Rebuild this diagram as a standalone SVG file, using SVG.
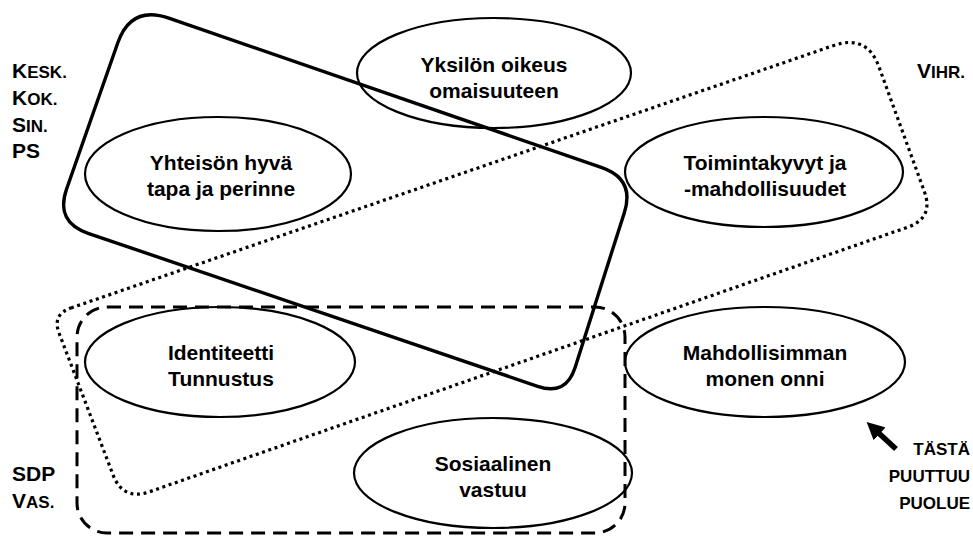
<svg xmlns="http://www.w3.org/2000/svg" width="973" height="536" viewBox="0 0 973 536">
<defs>
<style>
.bg{fill:#fff}
.el{fill:none;stroke:#000;stroke-width:2.2}
.t{font-family:"Liberation Sans",Arial,sans-serif;font-weight:bold;font-size:21px;fill:#000;text-anchor:middle}
.lab{font-family:"Liberation Sans",Arial,sans-serif;font-weight:bold;font-size:21px;fill:#000}
.sc{font-size:17px}
.note{font-family:"Liberation Sans",Arial,sans-serif;font-weight:bold;font-size:17px;fill:#000;text-anchor:end}
.solid{fill:none;stroke:#000;stroke-width:3.4;stroke-linejoin:round}
.dot{fill:none;stroke:#000;stroke-width:3.2;stroke-dasharray:3 3.6}
.dash{fill:none;stroke:#000;stroke-width:3;stroke-dasharray:14 8}
</style>
<marker id="ah" viewBox="0 0 10 10" refX="2" refY="5" markerWidth="3.2" markerHeight="3.2" orient="auto" markerUnits="strokeWidth">
<path d="M0,0 L10,5 L0,10 z" fill="#000"/>
</marker>
</defs>
<rect class="bg" x="0" y="0" width="973" height="536"/>

<g id="group-solid">
<path class="solid" d="M168.8 18.1 L601.9 167.6 Q635 179 624.4 212.4 L575.1 367.4 Q566 396 537.6 386.3 L88.1 233.3 Q55 222 66.6 189 L117.8 42.8 Q131 5 168.8 18.1 Z"/>
</g>
<g id="group-dotted">
<path class="dot" d="M70.9 308 L833.9 45.4 Q867 34 879 66.9 L924.4 191.7 Q934 218 907.6 227.2 L149.4 491.8 Q123 501 113 474.8 L59.1 333.2 Q52 314.5 70.9 308 Z"/>
</g>
<g id="group-dashed">
<rect class="dash" x="77" y="307" width="548" height="226" rx="30" ry="30"/>
</g>

<g id="node-yksilon">
<ellipse class="el" cx="494" cy="73" rx="137" ry="55"/>
<text class="t" x="494" y="72">Yksilön oikeus</text>
<text class="t" x="494" y="98">omaisuuteen</text>
</g>
<g id="node-yhteison">
<ellipse class="el" cx="218" cy="174" rx="133" ry="57"/>
<text class="t" x="221" y="170">Yhteisön hyvä</text>
<text class="t" x="221" y="196">tapa ja perinne</text>
</g>
<g id="node-toimintakyvyt">
<ellipse class="el" cx="764" cy="172" rx="139" ry="55"/>
<text class="t" x="765" y="170">Toimintakyvyt ja</text>
<text class="t" x="765" y="196">-mahdollisuudet</text>
</g>
<g id="node-identiteetti">
<ellipse class="el" cx="220" cy="362" rx="135" ry="55"/>
<text class="t" x="221" y="360">Identiteetti</text>
<text class="t" x="221" y="386">Tunnustus</text>
</g>
<g id="node-mahdollisimman">
<ellipse class="el" cx="765" cy="362" rx="140" ry="55"/>
<text class="t" x="765" y="360">Mahdollisimman</text>
<text class="t" x="765" y="386">monen onni</text>
</g>
<g id="node-sosiaalinen">
<ellipse class="el" cx="493" cy="473" rx="139" ry="55"/>
<text class="t" x="493" y="471">Sosiaalinen</text>
<text class="t" x="493" y="497">vastuu</text>
</g>

<g id="labels-left-top">
<text class="lab" x="12" y="78">K<tspan class="sc">ESK.</tspan></text>
<text class="lab" x="12" y="105">K<tspan class="sc">OK.</tspan></text>
<text class="lab" x="12" y="132">S<tspan class="sc">IN.</tspan></text>
<text class="lab" x="12" y="158">PS</text>
</g>
<g id="label-vihr">
<text class="lab" x="917" y="78">V<tspan class="sc">IHR.</tspan></text>
</g>
<g id="labels-left-bottom">
<text class="lab" x="12" y="481">SDP</text>
<text class="lab" x="12" y="508">V<tspan class="sc">AS.</tspan></text>
</g>
<g id="label-note">
<text class="note" x="970" y="455">TÄSTÄ</text>
<text class="note" x="970" y="482">PUUTTUU</text>
<text class="note" x="970" y="509">PUOLUE</text>
</g>

<g id="connectors">
<line x1="896" y1="449" x2="877" y2="431.5" stroke="#000" stroke-width="5.5" marker-end="url(#ah)"/>
</g>
</svg>
